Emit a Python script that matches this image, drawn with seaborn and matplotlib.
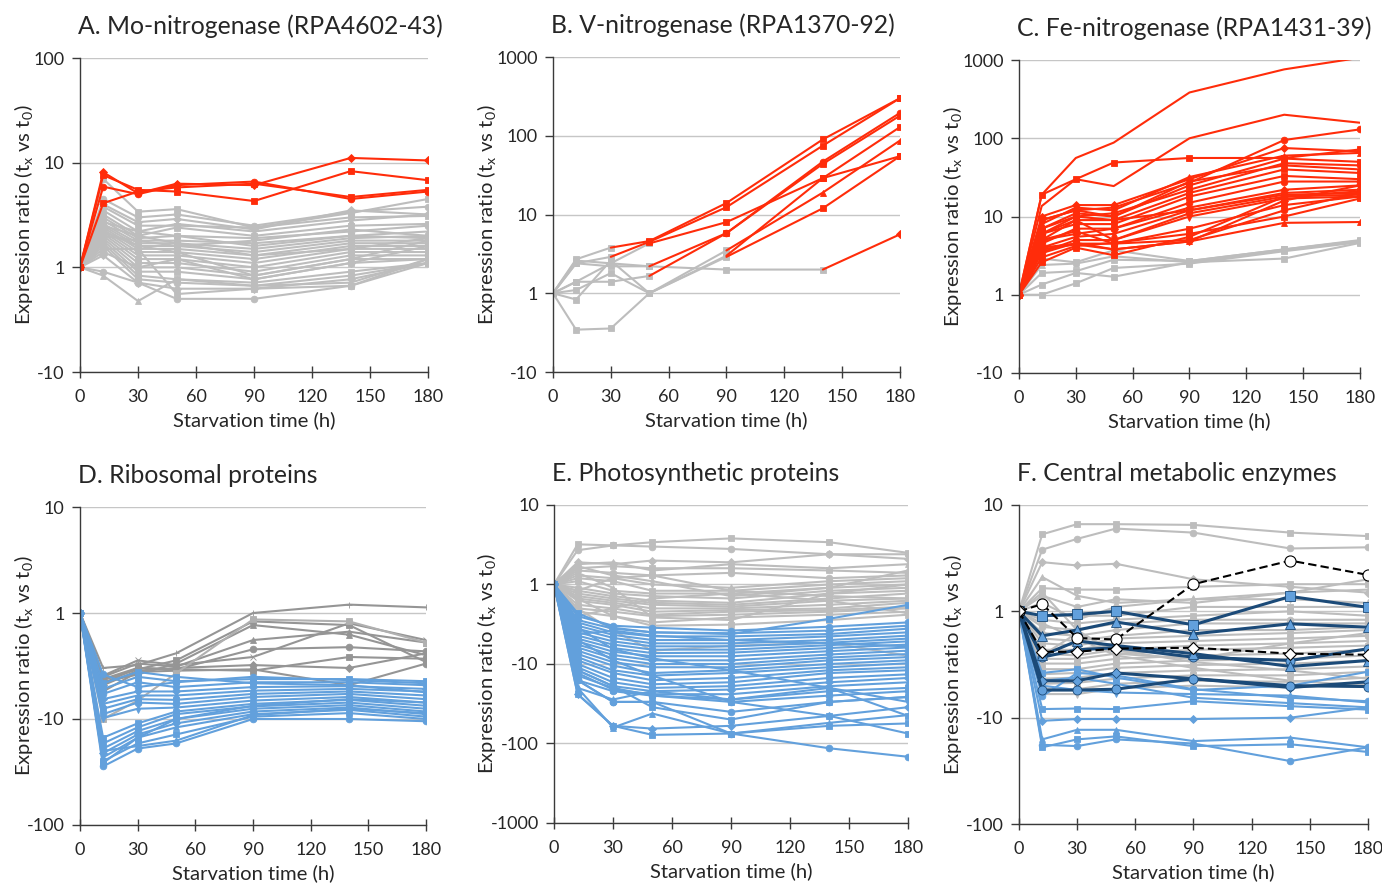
# Expression ratio time courses, six panels (nitrogenases, ribosomal, photosynthetic, central metabolism)
import numpy as np
import seaborn as sns
import matplotlib.pyplot as plt
from matplotlib.ticker import FixedLocator, FixedFormatter

# sampling times (h)
times = [0, 12, 30, 50, 90, 140, 180]

# ---- A. Mo-nitrogenase ----
a_red = [
    [1, 8.1, 5.1, 6.3, 6.1, 11.1, 10.5],
    [1, 7.6, 5.5, 5.3, 4.3, 8.3, 6.8],
    [1, 5.9, 5.0, 6.1, 6.6, 4.5, 5.3],
    [1, 4.1, 5.3, 5.8, 6.3, 4.7, 5.5],
]
a_gray = [
    [1, 7.0, 3.4, 3.6, 2.4, 3.3, 4.5],
    [1, 4.5, 3.0, 3.2, 2.5, 3.4, 3.8],
    [1, 4.0, 2.7, 2.9, 2.3, 3.5, 3.2],
    [1, 3.5, 2.2, 2.6, 2.2, 2.8, 3.2],
    [1, 3.2, 2.0, 2.4, 2.0, 2.5, 2.6],
    [1, 3.0, 1.9, 2.0, 1.9, 2.2, 2.5],
    [1, 2.8, 1.8, 1.8, 1.7, 2.0, 2.2],
    [1, 2.6, 1.7, 1.7, 1.5, 1.9, 2.0],
    [1, 2.5, 1.6, 1.6, 1.4, 1.8, 1.8],
    [1, 2.4, 1.5, 1.5, 1.3, 1.7, 1.7],
    [1, 2.3, 1.4, 1.4, 1.2, 1.6, 1.6],
    [1, 2.2, 1.3, 1.3, 1.1, 1.5, 1.5],
    [1, 2.1, 1.2, 1.2, 1.0, 1.4, 1.4],
    [1, 2.0, 1.1, 1.1, -1.1, 1.3, 1.3],
    [1, 1.9, 1.0, 1.0, -1.2, 1.2, 1.2],
    [1, 1.8, -1.1, -1.1, -1.3, 1.1, 1.2],
    [1, 1.7, -1.2, -1.3, -1.4, -1.1, 1.1],
    [1, 1.6, -1.3, -1.4, -1.5, -1.2, 1.1],
    [1, 1.3, -1.4, -1.6, -1.6, -1.3, 1.1],
    [1, -1.2, -2.1, -1.3, -1.5, -1.4, 1.2],
    [1, 1.5, 1.5, -1.8, -1.6, -1.5, 1.1],
    [1, -1.1, -1.4, -2.0, -2.0, -1.5, 1.2],
    [1, 2.0, 1.8, 1.6, 1.8, 2.3, 2.0],
    [1, 2.7, 2.2, 2.0, 1.6, 2.0, 1.9],
    [1, 3.8, 2.5, 2.5, 2.4, 3.0, 3.1],
    [1, 2.5, 2.0, 1.7, 1.3, 1.5, 1.9],
    [1, 1.4, 1.0, 1.2, -1.3, 1.1, 1.6],
    [1, 2.2, 1.6, 1.4, -1.2, 1.2, 1.8],
]

# ---- B. V-nitrogenase (gray until the switch index, red afterwards) ----
b_lines = [
    [1, 2.7, 3.8, 4.6, 14, 90, 300],
    [1, 2.4, 2.9, 4.5, 12.4, 75, 300],
    [1, 2.6, 2.4, 4.3, 8, 29, 55],
    [1, 1.4, 2.4, 2.2, 5.8, 47, 195],
    [1, 1.4, 1.4, 1.66, 5.8, 44, 180],
    [1, -1.2, 2.6, 1.0, 3.5, 19, 87],
    [1, 1.1, 1.8, 1.0, 2.9, 12, 55],
    [1, 2.4, 2.2, 2.2, 2.0, 2.0, 5.6],
    [1, -2.9, -2.8, 1.0, 3.0, 29, 129],
]
b_switch = [2, 2, 3, 3, 3, 4, 4, 5, 4]

# ---- C. Fe-nitrogenase ----
c_red_plain = [
    [1, 19, 56, 88, 385, 760, 1070],
    [1, 13.6, 30, 24.5, 100, 200, 158],
]
c_red = [
    [1, 19, 30, 49, 56, 56, 72],
    [1, 9, 12, 13, 27, 95, 130],
    [1, 10, 14, 14, 30, 75, 68],
    [1, 8, 13, 12, 32, 60, 65],
    [1, 7, 11, 10, 25, 55, 50],
    [1, 6, 10, 11, 22, 48, 45],
    [1, 9, 12, 10, 28, 45, 40],
    [1, 5, 9, 9, 20, 40, 36],
    [1, 6, 8, 8, 18, 33, 30],
    [1, 4.5, 7, 7, 15, 28, 28],
    [1, 5, 6, 7, 13, 22, 25],
    [1, 4, 5.5, 6, 12, 20, 22],
    [1, 7, 10, 9, 12, 19, 20],
    [1, 3.5, 5, 5, 11, 18, 19],
    [1, 6, 9, 5, 10, 17, 18],
    [1, 4, 4.5, 4.5, 7, 14, 18],
    [1, 3, 4.2, 4.6, 6, 10, 17],
    [1, 5, 6.5, 4.5, 5, 12, 20],
    [1, 3.8, 4.4, 3.8, 4.8, 16, 25],
    [1, 3.4, 4.6, 3.8, 4.8, 8.3, 8.5],
    [1, 2.6, 4.0, 3.2, 5.5, 18, 21],
]
c_gray = [
    [1, 2.9, 2.6, 3.7, 2.7, 3.8, 5.0],
    [1, 2.4, 2.5, 3.1, 2.6, 3.7, 4.8],
    [1, 1.9, 2.0, 2.8, 2.7, 3.8, 4.9],
    [1, 1.35, 1.9, 1.7, 2.6, 2.9, 4.6],
    [1, 1.0, 1.4, 2.2, 2.5, 3.6, 4.7],
]

# ---- D. Ribosomal proteins ----
d_dark = [
    [1, -3.3, -3.1, -2.4, 1.0, 1.2, 1.13],
    [1, -4.3, -3.4, -2.8, -1.2, -1.3, -2.9],
    [1, -4.0, -3.0, -3.2, -1.8, -1.5, -1.9],
    [1, -4.2, -3.3, -3.4, -2.2, -2.1, -2.3],
    [1, -3.9, -2.8, -3.1, -2.6, -1.25, -1.8],
    [1, -4.8, -3.5, -3.3, -3.1, -3.3, -2.4],
    [1, -4.6, -3.3, -3.4, -3.5, -2.6, -2.7],
    [1, -5.5, -3.6, -3.5, -3.4, -4.8, -3.0],
    [1, -4.5, -3.8, -3.0, -1.3, -1.6, -2.5],
]
d_light = [
    [1, -10, -6.7, -3.7, -1.15, -1.2, -1.9],
]
d_blue = [
    [1, -5.2, -4.0, -4.4, -4.2, -4.2, -4.4],
    [1, -5.8, -4.5, -5.0, -4.5, -4.5, -4.8],
    [1, -6.5, -5.5, -5.5, -5.0, -4.9, -5.2],
    [1, -7.2, -6.0, -6.0, -5.4, -5.2, -5.5],
    [1, -8.0, -6.5, -6.6, -5.8, -5.5, -6.0],
    [1, -9.0, -7.0, -7.2, -6.2, -5.8, -6.5],
    [1, -9.8, -8.0, -7.8, -6.7, -6.2, -7.0],
    [1, -15, -11, -8.5, -7.2, -6.6, -7.5],
    [1, -17, -12, -9.0, -7.6, -7.0, -8.0],
    [1, -19, -13, -10, -8.0, -7.4, -8.5],
    [1, -21, -14, -11, -8.5, -7.8, -9.0],
    [1, -23, -15, -12, -9.0, -8.2, -9.5],
    [1, -25, -17, -14, -9.5, -8.8, -10],
    [1, -28, -19, -17, -10, -10, -10.5],
    [1, -20, -18, -16, -9.2, -8.0, -8.8],
    [1, -26, -15, -10, -7.5, -6.5, -7.0],
    [1, -4.6, -3.6, -4.0, -4.6, -4.8, -5.6],
    [1, -3.8, -5.0, -4.5, -4.0, -4.3, -4.6],
]

# ---- E. Photosynthetic proteins ----
e_gray = [
    [1, 3.2, 3.1, 3.4, 3.8, 3.4, 2.5],
    [1, 2.7, 3.1, 3.0, 2.8, 2.4, 2.4],
    [1, 1.9, 1.8, 2.0, 1.9, 2.4, 2.1],
    [1, 1.8, 1.9, 1.5, 1.8, 1.6, 1.8],
    [1, 1.6, 1.7, 1.6, 1.6, 1.5, 1.4],
    [1, 1.5, 1.4, 1.3, 1.4, 1.2, 1.3],
    [1, 1.3, 1.2, 1.0, -1.1, 1.1, 1.2],
    [1, 1.2, 1.1, -1.2, -1.2, 1.0, 1.1],
    [1, 1.1, -1.2, -1.3, -1.3, -1.1, 1.0],
    [1, -1.1, -1.3, -1.4, -1.5, -1.2, -1.1],
    [1, -1.2, -1.4, -1.6, -1.7, -1.3, -1.2],
    [1, -1.3, -1.5, -1.7, -1.8, -1.5, -1.3],
    [1, -1.4, -1.6, -1.8, -1.9, -1.6, -1.5],
    [1, -1.5, -1.7, -2.0, -2.0, -1.8, -1.6],
    [1, -1.6, -1.8, -2.2, -2.1, -2.0, -1.7],
    [1, -1.8, -2.0, -2.4, -2.2, -2.1, -1.9],
    [1, -2.0, -2.2, -2.5, -2.4, -2.2, -2.0],
    [1, -2.2, -2.5, -3.0, -2.6, -2.4, -2.2],
    [1, -2.0, -3.8, -6.8, -5.9, -5.4, -7.9],
    [1, 1.4, -1.1, -2.6, -2.8, -1.3, 1.0],
    [1, -1.2, 1.2, 1.3, -1.2, -1.4, -1.5],
    [1, -2.5, -2.0, -1.5, -1.3, -1.6, -2.3],
    [1, 1.7, 1.3, 1.1, -1.4, -1.1, 1.5],
    [1, -1.5, -2.5, -3.3, -3.2, -2.8, -2.4],
]
e_blue = [
    [1, -2.3, -3.5, -4.0, -4.2, -2.7, -1.8],
    [1, -2.5, -3.3, -3.5, -3.8, -3.4, -3.0],
    [1, -2.8, -3.6, -4.0, -4.1, -3.8, -3.3],
    [1, -3.0, -4.0, -4.5, -4.5, -4.2, -3.6],
    [1, -3.3, -4.3, -5.0, -5.0, -4.5, -4.0],
    [1, -3.6, -4.7, -5.5, -5.5, -5.0, -4.4],
    [1, -4.0, -5.2, -6.0, -6.0, -5.4, -4.8],
    [1, -4.4, -5.7, -6.6, -6.6, -5.8, -5.2],
    [1, -4.8, -6.3, -7.3, -7.2, -6.3, -5.7],
    [1, -5.2, -7.0, -8.0, -8.0, -6.9, -6.2],
    [1, -5.7, -7.7, -9.0, -9.0, -7.6, -6.8],
    [1, -6.2, -8.5, -10, -10, -8.3, -7.5],
    [1, -6.8, -9.5, -11, -11, -9.0, -8.2],
    [1, -7.5, -10.5, -13, -12, -10, -9.0],
    [1, -8.2, -12, -14, -13, -11, -9.8],
    [1, -9.0, -13, -16, -15, -12, -11],
    [1, -10, -15, -18, -17, -13, -12],
    [1, -11, -17, -20, -19, -15, -13.5],
    [1, -12, -19, -22, -21, -17, -15],
    [1, -13, -21, -24, -24, -19, -17],
    [1, -14, -20, -25, -28, -22, -20],
    [1, -16, -22, -25, -30, -25, -22],
    [1, -4.2, -3.8, -4.4, -5.0, -5.5, -6.0],
    [1, -3.5, -6.5, -8.5, -12, -20, -45],
    [1, -5.0, -9.0, -14, -30, -45, -75],
    [1, -16, -30, -30, -40, -30, -26],
    [1, -24, -60, -65, -60, -45, -35],
    [1, -20, -63, -42, -75, -55, -44],
    [1, -24, -60, -78, -75, -60, -56],
    [1, -16, -30, -30, -75, -115, -147],
    [1, -20, -28, -22, -28, -20, -30],
    [1, -12, -19, -35, -50, -30, -26],
]

# ---- F. Central metabolic enzymes ----
f_gray = [
    [1, 5.3, 6.6, 6.6, 6.5, 5.5, 5.1],
    [1, 3.8, 4.8, 6.0, 5.5, 3.9, 4.0],
    [1, 2.9, 2.7, 2.8, 2.0, 1.7, 1.5],
    [1, 2.1, 1.4, 1.2, 1.3, 1.5, 1.6],
    [1, 1.65, 1.6, 1.6, 1.7, 1.8, 1.8],
    [1, 1.4, 1.1, 1.3, 1.2, 1.5, 2.0],
    [1, 1.2, -1.2, 1.1, 1.3, 1.3, 1.2],
    [1, -1.1, -1.1, -1.1, 1.1, 1.1, 1.1],
    [1, -1.2, -1.3, -1.2, -1.1, 1.0, -1.1],
    [1, -1.4, -1.5, -1.3, -1.2, -1.2, -1.2],
    [1, -1.6, -1.7, -1.5, -1.3, -1.3, -1.3],
    [1, -1.8, -1.9, -1.7, -1.5, -1.5, -1.4],
    [1, -2.0, -2.1, -1.8, -1.7, -1.6, -1.5],
    [1, -2.3, -2.3, -2.0, -1.9, -1.8, -1.7],
    [1, -2.5, -2.6, -2.3, -2.1, -2.0, -1.9],
    [1, -2.8, -2.8, -2.5, -2.3, -2.2, -2.1],
    [1, -3.1, -3.1, -2.8, -2.6, -2.5, -2.3],
    [1, -3.5, -3.5, -3.1, -2.9, -2.8, -2.6],
    [1, -3.9, -3.8, -3.4, -3.2, -3.1, -2.9],
    [1, -4.3, -4.2, -3.8, -3.6, -3.5, -3.3],
    [1, -4.8, -4.7, -4.3, -4.0, -4.0, -3.7],
    [1, -5.3, -5.4, -4.8, -4.5, -4.6, -4.2],
    [1, -6.0, -6.0, -5.3, -5.0, -5.2, -4.8],
    [1, -2.6, -1.6, -2.3, -3.0, -3.6, -4.3],
    [1, 1.5, -1.5, -2.5, -2.8, -2.0, -1.6],
    [1, -1.3, -1.8, -2.6, -3.4, -4.5, -5.0],
]
f_blue = [
    [1, -8.3, -8.2, -8.3, -7.0, -7.8, -8.4],
    [1, -6.3, -3.8, -4.0, -5.4, -6.5, -7.0],
    [1, -10.7, -10.3, -10.3, -10.3, -10, -8.0],
    [1, -16, -13, -13, -16.6, -15.4, -19],
    [1, -19, -16, -15, -18.5, -17.8, -21],
    [1, -18, -18.5, -16, -17.5, -25.6, -19],
    [1, -5.0, -5.5, -5.8, -6.0, -6.2, -7.2],
    [1, -4.5, -4.2, -4.8, -6.5, -7.3, -8.0],
    [1, -3.8, -3.5, -4.2, -5.5, -5.0, -3.7],
]
f_navy = [
    [1, -1.1, -1.07, 1.0, -1.34, 1.38, 1.09],
    [1, -1.7, -1.5, -1.26, -1.63, -1.31, -1.41],
    [1, -2.7, -2.3, -2.2, -2.7, -2.9, -2.25],
    [1, -2.6, -1.9, -2.1, -2.5, -3.3, -2.9],
    [1, -4.5, -4.5, -3.8, -4.3, -5.2, -4.6],
    [1, -5.5, -5.5, -5.4, -4.3, -5.0, -5.1],
]
f_dashed = [
    [1, 1.17, -1.78, -1.84, 1.8, 3.0, 2.2],
    [1, -2.4, -2.4, -2.24, -2.2, -2.5, -2.56],
]

titles = ["A. Mo-nitrogenase (RPA4602-43)", "B. V-nitrogenase (RPA1370-92)",
          "C. Fe-nitrogenase (RPA1431-39)", "D. Ribosomal proteins",
          "E. Photosynthetic proteins", "F. Central metabolic enzymes"]
y_ticks = [[-10, 1, 10, 100], [-10, 1, 10, 100, 1000], [-10, 1, 10, 100, 1000],
           [-100, -10, 1, 10], [-1000, -100, -10, 1, 10], [-100, -10, 1, 10]]

RED = '#FF2C0A'
GRAY = '#BDBDBD'
DGRAY = '#959595'
BLUE = '#62A0DC'
NAVY = '#1B4A78'
shapes = ['s', 'o', 'D', '^', 's', 'o', 'd', 's']

sns.set_theme(style='white')
plt.rcParams['font.family'] = ['Lato', 'DejaVu Sans']
plt.rcParams['axes.unicode_minus'] = False


# signed log scale: 10 -> 1, 1 -> 0, -10 -> -1
def fwd(v):
    v = np.asarray(v, dtype=float)
    return np.sign(v) * np.log10(np.maximum(np.abs(v), 1.0))


def inv(u):
    u = np.asarray(u, dtype=float)
    return np.where(u < 0, -1.0, 1.0) * 10 ** np.abs(u)


def draw(ax, series, color, lw=1.5, ms=4.8, marks=None, **kw):
    edge = kw.pop('edge', color)
    for i, vals in enumerate(series):
        m = marks[i] if marks is not None else shapes[i % len(shapes)]
        size = ms * 0.85 if m in ('D', 'd') else ms
        sns.lineplot(x=times, y=vals, ax=ax, color=color, linewidth=lw, marker=m,
                     markersize=size, mec=edge, mew=0.6, **kw)


fig = plt.figure(figsize=(13.82, 8.83), dpi=100)
boxes = [[0.0579, 0.5787, 0.2518, 0.3556], [0.4001, 0.5787, 0.2511, 0.3567],
         [0.7373, 0.5776, 0.2468, 0.3544], [0.0579, 0.0657, 0.2503, 0.3601],
         [0.4009, 0.0680, 0.2561, 0.3601], [0.7373, 0.0668, 0.2525, 0.3613]]
# x position (axes fraction) of each y-axis label
label_x = [-0.127, -0.156, -0.158, -0.127, -0.155, -0.155]
axes = [fig.add_axes(b) for b in boxes]

for ax, ticks in zip(axes, y_ticks):
    ax.set_yscale('function', functions=(fwd, inv))
    ax.set_ylim(ticks[0], ticks[-1])
    ax.set_xlim(0, 180)

# A
draw(axes[0], a_gray, GRAY)
draw(axes[0], a_red, RED, marks=['D', 's', 'o', 's'])

# B
ax = axes[1]
for vals, k in zip(b_lines, b_switch):
    sns.lineplot(x=times[:k + 1], y=vals[:k + 1], ax=ax, color=GRAY, linewidth=1.5,
                 marker='s', markersize=4.8, mec=GRAY, mew=0.6)
for i, (vals, k) in enumerate(zip(b_lines, b_switch)):
    m = ['s', 's', 's', 'o', 's', '^', 's', 'D', 's'][i]
    sns.lineplot(x=times[k:], y=vals[k:], ax=ax, color=RED, linewidth=1.5,
                 marker=m, markersize=4.8 if m != 'D' else 4.0, mec=RED, mew=0.6,
                 markevery=list(range(1, len(times) - k)))

# C
draw(axes[2], c_gray, GRAY, marks=['s', '^', 's', 's', 's'])
draw(axes[2], c_red_plain, RED, marks=['', ''])
draw(axes[2], c_red, RED)

# D
draw(axes[3], d_dark, DGRAY, marks=['+', 's', '^', 'o', 'x', 'D', 's', 'o', '^'])
draw(axes[3], d_light, '#B0B0B0', marks=['s'])
draw(axes[3], d_blue, BLUE)

# E
draw(axes[4], e_gray, GRAY)
draw(axes[4], e_blue, BLUE)

# F
draw(axes[5], f_gray, GRAY)
draw(axes[5], f_blue, BLUE)
draw(axes[5], f_navy, NAVY, lw=2.2, ms=6.5, marks=['s', '^', 'o', '^', 'D', 'o'],
     mfc=BLUE, edge=NAVY)
for vals, m in zip(f_dashed, ['o', 'D']):
    sns.lineplot(x=times, y=vals, ax=axes[5], color='black', linewidth=1.5,
                 linestyle=(0, (4, 2)), marker=m, markersize=8 if m == 'o' else 6.5,
                 mfc='white', mec='black', mew=0.8)

for ax, ticks, title, lx in zip(axes, y_ticks, titles, label_x):
    ax.yaxis.set_major_locator(FixedLocator(ticks))
    ax.yaxis.set_major_formatter(FixedFormatter([str(t) for t in ticks]))
    ax.yaxis.set_minor_locator(FixedLocator([]))
    ax.set_xticks([0, 30, 60, 90, 120, 150, 180])
    ax.grid(axis='y', color='#C6C6C6', linewidth=1.0)
    ax.grid(axis='x', visible=False)
    ax.set_axisbelow(True)
    for side in ('top', 'right'):
        ax.spines[side].set_visible(False)
    for side in ('left', 'bottom'):
        ax.spines[side].set_color('#3A3A3A')
        ax.spines[side].set_linewidth(1.0)
    ax.tick_params(axis='y', direction='out', length=6, width=1, color='#3A3A3A',
                   labelsize=13, pad=5, left=True)
    ax.tick_params(axis='x', direction='inout', length=8, width=1, color='#3A3A3A',
                   labelsize=13, pad=8, bottom=True)
    ax.set_title(title, loc='left', fontsize=17.8, pad=17, x=-0.005)
    ax.set_xlabel('Starvation time (h)', fontsize=14.6, labelpad=5)
    ax.set_ylabel(r'Expression ratio (t$_\mathregular{x}$ vs t$_\mathregular{0}$)',
                  fontsize=14.6)
    ax.yaxis.set_label_coords(lx, 0.5)

fig.savefig('out.png', dpi=100)
